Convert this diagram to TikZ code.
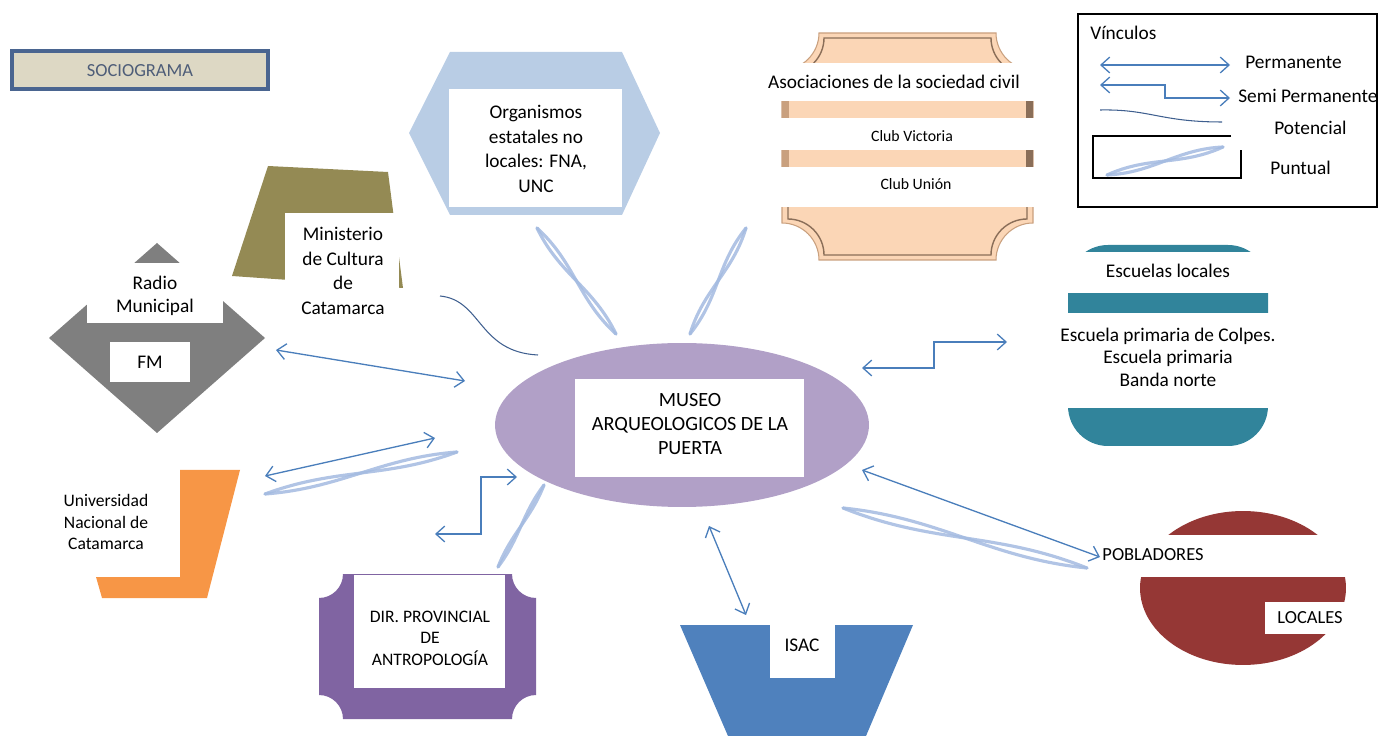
\documentclass[tikz,border=0pt]{standalone}
\usepackage{fontspec}
\setmainfont{Carlito}
\usetikzlibrary{arrows.meta}
\definecolor{linkblue}{HTML}{4A7EBB}
\definecolor{potblue}{HTML}{3F5F8F}
\definecolor{puntblue}{HTML}{A3BAE0}
\definecolor{hexblue}{HTML}{B9CDE5}
\definecolor{olive}{HTML}{948A54}
\definecolor{radiogray}{HTML}{7F7F7F}
\definecolor{peach}{HTML}{FBD6B6}
\definecolor{peachedge}{HTML}{C9A07E}
\definecolor{peachdark}{HTML}{8A6E58}
\definecolor{escteal}{HTML}{31849B}
\definecolor{museolila}{HTML}{B1A0C7}
\definecolor{uniorange}{HTML}{F79646}
\definecolor{dirpurple}{HTML}{8064A2}
\definecolor{isacblue}{HTML}{4F81BD}
\definecolor{pobred}{HTML}{953735}
\definecolor{sociofill}{HTML}{DDD8C4}
\definecolor{socioedge}{HTML}{4A6590}
\definecolor{sociotext}{HTML}{4E5D78}
\tikzset{
    every node/.style={inner sep=0pt, align=center, font=\fontsize{11}{14}\selectfont}
}
\tikzset{
    txtsmall/.style={font=\fontsize{9}{11.5}\selectfont}
}
\tikzset{
    txtmid/.style={font=\fontsize{10}{12.3}\selectfont}
}
\tikzset{
    perm/.style={draw=linkblue, line width=0.75pt,
    	>={Straight Barb[length=5pt,width=9pt]}, <->}
}
\tikzset{
    pot/.style={draw=potblue, line width=0.6pt}
}
\tikzset{
    punt/.style={draw=puntblue, line width=1.8pt, line cap=round, opacity=.85}
}
\newcommand{\plaquepath}[5]{(#1+#5,#2) -- (#3-#5,#2)
  .. controls (#3-#5,#2+0.55*#5) and (#3-0.55*#5,#2+#5) .. (#3,#2+#5)
  -- (#3,#4-#5)
  .. controls (#3-0.55*#5,#4-#5) and (#3-#5,#4-0.55*#5) .. (#3-#5,#4)
  -- (#1+#5,#4)
  .. controls (#1+#5,#4-0.55*#5) and (#1+0.55*#5,#4-#5) .. (#1,#4-#5)
  -- (#1,#2+#5)
  .. controls (#1+0.55*#5,#2+#5) and (#1+#5,#2+0.55*#5) .. cycle}

\begin{document}
\begin{tikzpicture}[x=0.02cm, y=-0.02cm]
  \useasboundingbox (0,0) rectangle (1380,736);

  \filldraw[fill=sociofill, draw=socioedge, line width=2pt] (12,51) rectangle (268,89);
  \node (socio) [text=sociotext, font=\fontsize{10.5}{12}\selectfont] at (140,71) {SOCIOGRAMA};

  \fill[hexblue] (409,133) -- (450,52) -- (622,52) -- (660,133) -- (622,215) -- (450,215) -- cycle;
  \fill[white] (449,89) rectangle (622,207);
  \node (org) at (536,149) {Organismos\\estatales no\\locales: FNA,\\UNC};

  \fill[olive] (268,166) -- (388,172) -- (403,288) -- (232,276) -- cycle;
  \fill[white] (285,213) rectangle (399,325);
  \node (min) at (343,271) {Ministerio\\de Cultura\\de\\Catamarca};

  \fill[radiogray] (49,338) -- (157,243) -- (265,338) -- (157,433) -- cycle;
  \fill[white] (87,263) rectangle (223,323);
  \fill[white] (110,342) rectangle (190,382);
  \node (radio) [font=\fontsize{11}{13.2}\selectfont] at (155,296) {Radio\\Municipal};
  \node (fm) at (150,362) {FM};

  \filldraw[fill=peach, draw=peachedge, line width=0.6pt] \plaquepath{782}{33}{1033}{260}{37};
  \draw[peachdark, line width=0.8pt] \plaquepath{788}{38}{1027}{255}{36};
  \fill[white] (760,63) rectangle (1050,101);
  \fill[white] (760,118) rectangle (1050,150);
  \fill[white] (760,167) rectangle (1050,207);
  \fill[peachedge] (782,101) rectangle (789,118);
  \fill[peachedge] (782,150) rectangle (789,167);
  \fill[peachdark] (1026,101) rectangle (1033,118);
  \fill[peachdark] (1026,150) rectangle (1033,167);
  \node (aso) at (894,82) {Asociaciones de la sociedad civil};
  \node (vic) [txtsmall] at (912,136) {Club Victoria};
  \node (uni2) [txtsmall] at (916,184) {Club Unión};

  \fill[escteal, rounded corners=0.8cm] (1068,245) rectangle (1268,446);
  \fill[white] (1050,252) rectangle (1285,293);
  \fill[white] (1050,313) rectangle (1285,408);
  \node (esc) at (1168,271) {Escuelas locales};
  \node (esc2) [font=\fontsize{11}{12.8}\selectfont] at (1168,357) {Escuela primaria de Colpes.\\Escuela primaria\\Banda norte};

  \fill[museolila] (682,425) ellipse [x radius=3.74cm, y radius=1.64cm];
  \fill[white] (575,379) rectangle (804,477);
  \node (museo) [font=\fontsize{11.5}{13.9}\selectfont] at (690,424) {MUSEO\\ARQUEOLOGICOS DE LA\\PUERTA};

  \fill[uniorange] (180,470) -- (240,470) -- (207,598) -- (102,598) -- (96,577) -- (180,577) -- cycle;
  \node (unca) [txtmid] at (106,522) {Universidad\\Nacional de\\Catamarca};

  \fill[dirpurple] \plaquepath{319}{574}{536}{719}{24};
  \fill[white] (354,575) rectangle (505,688);
  \node (dir) [txtmid] at (430,638) {DIR. PROVINCIAL\\DE\\ANTROPOLOGÍA};

  \fill[isacblue] (680,625) -- (913,625) -- (866,736) -- (728,736) -- cycle;
  \fill[white] (770,625) rectangle (835,678);
  \node (isac) at (802,645) {ISAC};

  \fill[pobred] (1243,588) ellipse [x radius=2.06cm, y radius=1.54cm];
  \fill[white] (1095,535) rectangle (1355,577);
  \fill[white] (1265,602) rectangle (1350,634);
  \node (pob) [font=\fontsize{10.5}{12}\selectfont] at (1153,555) {POBLADORES};
  \node (loc) [font=\fontsize{10.5}{12}\selectfont] at (1310,618) {LOCALES};

  \draw[black, line width=0.6pt] (1078,14) rectangle (1377,207);
  \draw[black, line width=0.6pt] (1231,136) -- (1093,136) -- (1093,178) -- (1241,178) -- (1241,150);
  \node (vin) [anchor=west] at (1090,33) {Vínculos};
  \node (lp) [anchor=west] at (1245,62) {Permanente};
  \node (ls) [anchor=west] at (1238,96) {Semi Permanente};
  \node (lpo) [anchor=west] at (1274,128) {Potencial};
  \node (lpu) [anchor=west] at (1270,168) {Puntual};

  \coordinate (lp1) at (1100,65); \coordinate (lp2) at (1230,65);
  \coordinate (ls1) at (1100,85); \coordinate (ls2) at (1230,98);
  \coordinate (lo1) at (1100,110); \coordinate (lo2) at (1222,122);
  \coordinate (lu1) at (1107,175); \coordinate (lu2) at (1223,147);

  \coordinate (r1) at (276,350); \coordinate (r2) at (465,381);
  \coordinate (u1) at (265,476); \coordinate (u2) at (435,438);
  \coordinate (i1) at (709,526); \coordinate (i2) at (746,615);
  \coordinate (p1) at (862,470); \coordinate (p2) at (1100,557);
  \coordinate (e1) at (862,368); \coordinate (e2) at (1007,342);
  \coordinate (d1) at (435,534); \coordinate (d2) at (517,477);
  \coordinate (m1) at (440,296); \coordinate (m2) at (538,355);
  \coordinate (o1) at (537,228); \coordinate (o2) at (616,334);
  \coordinate (a1) at (746,228); \coordinate (a2) at (690,334);
  \coordinate (uu1) at (265,494); \coordinate (uu2) at (457,452);
  \coordinate (dd1) at (498,567); \coordinate (dd2) at (544,485);
  \coordinate (pp1) at (843,508); \coordinate (pp2) at (1087,568);

  \draw (lp1) edge[perm] (lp2); \draw[perm] (ls1) -- ++(65,0) |- (ls2);
  \draw[pot] (lo1) .. controls (1150,109) and (1160,122) .. (lo2);
  \draw (lu1) edge[punt, out=11, in=191, relative] (lu2) edge[punt, out=-11, in=169, relative] (lu2);

  \draw (r1) edge[perm] (r2); \draw (u1) edge[perm] (u2);
  \draw (i1) edge[perm] (i2); \draw (p1) edge[perm] (p2);
  \draw[perm] (e1) -- ++(72,0) |- (e2); \draw[perm] (d1) -- ++(46,0) |- (d2);
  \draw[pot] (m1) .. controls (482,300) and (478,352) .. (m2);

  \draw (o1) edge[punt, out=11, in=191, relative] (o2) edge[punt, out=-11, in=169, relative] (o2);
  \draw (a1) edge[punt, out=11, in=191, relative] (a2) edge[punt, out=-11, in=169, relative] (a2);
  \draw (uu1) edge[punt, out=8, in=188, relative] (uu2) edge[punt, out=-8, in=172, relative] (uu2);
  \draw (dd1) edge[punt, out=8, in=188, relative] (dd2) edge[punt, out=-8, in=172, relative] (dd2);
  \draw (pp1) edge[punt, out=8, in=188, relative] (pp2) edge[punt, out=-8, in=172, relative] (pp2);
\end{tikzpicture}
\end{document}
